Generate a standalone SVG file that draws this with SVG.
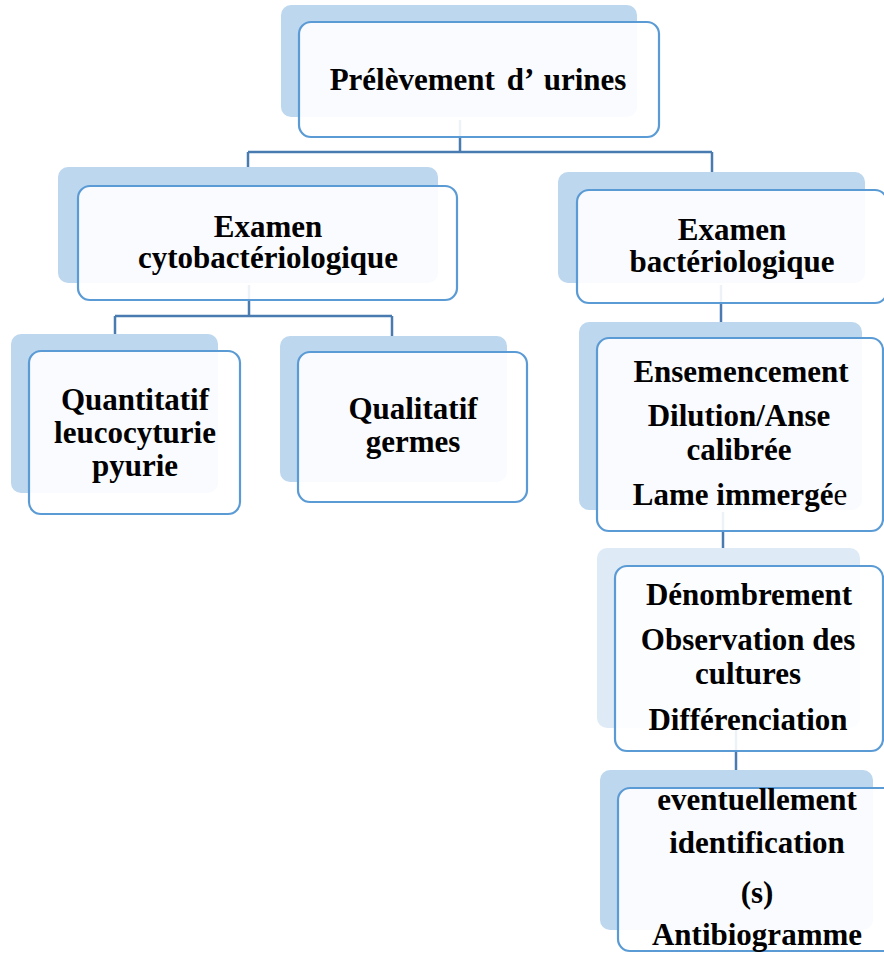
<svg xmlns="http://www.w3.org/2000/svg" width="884" height="955" viewBox="0 0 884 955">
<style>
.sh{fill:#bdd7ee;}
.sh2{fill:#deebf7;}
.fr{fill:#ffffff;fill-opacity:0.9;stroke:#5b9bd5;stroke-width:2.2;}
.cn{fill:none;stroke:#4a7bb0;stroke-width:2.5;}
text{font-family:"Liberation Serif","Times New Roman",serif;font-weight:bold;font-size:31px;fill:#000;text-anchor:middle;}
</style>
<rect width="884" height="955" fill="#ffffff"/>
<g id="connectors">
<path class="cn" d="M460,120 V152 M248,152 H712 M248,152 V168 M712,152 V173"/>
<path class="cn" d="M249,285 V316 M115,316 H392 M115,316 V335 M392,316 V337"/>
<path class="cn" d="M721,285 V323"/>
<path class="cn" d="M723,512 V549"/>
<path class="cn" d="M736,730 V771"/>
</g>
<g id="n1">
<rect class="sh" x="281" y="5" width="356" height="112" rx="10"/>
<rect class="fr" x="299" y="22" width="360" height="115" rx="12"/>
<text x="478" y="90" word-spacing="4">Prélèvement d’ urines</text>
</g>
<g id="n2">
<rect class="sh" x="58" y="167" width="380" height="116" rx="10"/>
<rect class="fr" x="78" y="186" width="379" height="114" rx="12"/>
<text x="268" y="237">Examen</text>
<text x="268" y="268">cytobactériologique</text>
</g>
<g id="n3">
<rect class="sh" x="558" y="172" width="307" height="111" rx="10"/>
<rect class="fr" x="577" y="190" width="310" height="113" rx="12"/>
<text x="732" y="240">Examen</text>
<text x="732" y="272">bactériologique</text>
</g>
<g id="n4">
<rect class="sh" x="11" y="334" width="207" height="159" rx="10"/>
<rect class="fr" x="29" y="351" width="211" height="163" rx="12"/>
<text x="135" y="410">Quantitatif</text>
<text x="135" y="443">leucocyturie</text>
<text x="135" y="476">pyurie</text>
</g>
<g id="n5">
<rect class="sh" x="280" y="336" width="227" height="146" rx="10"/>
<rect class="fr" x="298" y="352" width="229" height="150" rx="12"/>
<text x="413" y="419">Qualitatif</text>
<text x="413" y="452">germes</text>
</g>
<g id="n6">
<rect class="sh" x="579" y="322" width="283" height="188" rx="10"/>
<rect class="fr" x="597" y="338" width="286" height="193" rx="12"/>
<text x="741" y="382">Ensemencement</text>
<text x="739" y="426">Dilution/Anse</text>
<text x="739" y="460">calibrée</text>
<text x="740" y="505">Lame immergé<tspan font-weight="normal">e</tspan></text>
</g>
<g id="n7">
<rect class="sh2" x="597" y="548" width="263" height="180" rx="10"/>
<rect class="fr" x="615" y="566" width="268" height="185" rx="12"/>
<text x="749" y="605">Dénombrement</text>
<text x="748" y="650">Observation des</text>
<text x="748" y="684">cultures</text>
<text x="748" y="730">Différenciation</text>
</g>
<g id="n8">
<rect class="sh" x="600" y="770" width="273" height="160" rx="10"/>
<rect class="fr" x="618" y="788" width="278" height="163" rx="12"/>
<text x="757" y="810">eventuellement</text>
<text x="757" y="853">identification</text>
<text x="757" y="903">(s)</text>
<text x="757" y="945">Antibiogramme</text>
</g>
</svg>
